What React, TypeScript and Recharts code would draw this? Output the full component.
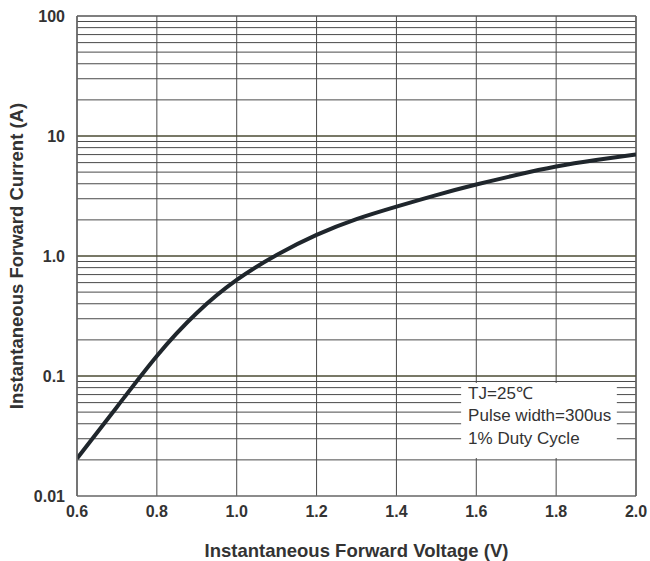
import React from 'react';
import { LineChart, Line, XAxis, YAxis, CartesianGrid, ReferenceLine, ReferenceArea, Label } from 'recharts';

const voltage = [0.6, 0.7, 0.8, 0.9, 1.0, 1.1, 1.2, 1.3, 1.4, 1.5, 1.6, 1.7, 1.8, 1.9, 2.0];
const current = [0.0205, 0.0552, 0.147, 0.335, 0.631, 1.02, 1.5, 2.03, 2.58, 3.22, 3.94, 4.73, 5.57, 6.31, 7.01];

const xTicks = [0.6, 0.8, 1.0, 1.2, 1.4, 1.6, 1.8, 2.0];
const xTickLabels = ['0.6', '0.8', '1.0', '1.2', '1.4', '1.6', '1.8', '2.0'];
const yTicks = [0.01, 0.1, 1, 10, 100];
const yTickLabels = ['0.01', '0.1', '1.0', '10', '100'];
const gridValues = [
  0.02, 0.03, 0.04, 0.05, 0.06, 0.07, 0.08, 0.09, 0.1,
  0.2, 0.3, 0.4, 0.5, 0.6, 0.7, 0.8, 0.9, 1,
  2, 3, 4, 5, 6, 7, 8, 9, 10,
  20, 30, 40, 50, 60, 70, 80, 90,
];
const decadeGrid = [0.1, 1, 10];
const noteLines = ['TJ=25\u2103', 'Pulse width=300us', '1% Duty Cycle'];
const noteBox = { x1: 1.562, x2: 1.952, y1: 0.0207, y2: 0.0875 };

const xTitle = 'Instantaneous Forward Voltage (V)';
const yTitle = 'Instantaneous Forward Current (A)';

const data = voltage.map((v, i) => ({ v, i: current[i] }));

const FONT = '"Liberation Sans", Arial, sans-serif';

const NoteLabel = (props: any) => {
  const vb = props.viewBox || {};
  return (
    <g>
      {noteLines.map((t, k) => (
        <text key={k} x={vb.x + 7} y={vb.y + 10.5 + k * 22.5} dominantBaseline="central"
          fontFamily={FONT} fontSize={17} fill="#333">{t}</text>
      ))}
    </g>
  );
};

const XTitle = (props: any) => {
  const vb = props.viewBox || {};
  return (
    <text x={vb.x + vb.width / 2} y={vb.y + 54} textAnchor="middle" dominantBaseline="central"
      fontFamily={FONT} fontWeight="bold" fontSize={18.5} fill="#333">{xTitle}</text>
  );
};

const YTitle = (props: any) => {
  const vb = props.viewBox || {};
  const cx = vb.x + 16;
  const cy = vb.y + vb.height / 2;
  return (
    <text x={cx} y={cy} textAnchor="middle" dominantBaseline="central" transform={`rotate(-90 ${cx} ${cy})`}
      fontFamily={FONT} fontWeight="bold" fontSize={18.5} fill="#333">{yTitle}</text>
  );
};

export default function App() {
  return (
    <div style={{ position: 'absolute', left: 0, top: 0, width: 650, height: 561, background: '#fff' }}>
      <LineChart width={650} height={561} data={data} margin={{ top: 16, right: 14, bottom: 0, left: 0 }}>
        <CartesianGrid horizontal={true} vertical={true} horizontalValues={gridValues}
          stroke="#4a4a4a" strokeWidth={1} strokeDasharray="" />
        <ReferenceLine y={100} stroke="#555" strokeWidth={1.5} />
        <ReferenceLine x={2.0} stroke="#666" strokeWidth={1.5} />
        <ReferenceArea x1={noteBox.x1} x2={noteBox.x2} y1={noteBox.y1} y2={noteBox.y2}
          fill="#fff" fillOpacity={1} stroke="none" label={<NoteLabel />} />
        {decadeGrid.map((g) => (
          <ReferenceLine key={'d' + g} y={g} stroke="#4d4d28" strokeWidth={1} />
        ))}
        <XAxis dataKey="v" type="number" domain={[0.6, 2.0]} ticks={xTicks} height={65}
          tickFormatter={(v: number) => xTickLabels[xTicks.indexOf(v)] ?? ''}
          tickLine={false} tickSize={0} tickMargin={10} interval={0}
          axisLine={{ stroke: '#666', strokeWidth: 1.5 }}
          tick={{ fontFamily: FONT, fontWeight: 'bold', fontSize: 16, fill: '#333' }}
          allowDataOverflow>
          <Label content={<XTitle />} />
        </XAxis>
        <YAxis type="number" scale="log" domain={[0.01, 100]} ticks={yTicks} width={77}
          tickFormatter={(v: number) => yTickLabels[yTicks.indexOf(v)] ?? ''}
          tickLine={false} tickSize={0} tickMargin={12} interval={0}
          axisLine={{ stroke: '#666', strokeWidth: 1.5 }}
          tick={{ fontFamily: FONT, fontWeight: 'bold', fontSize: 16, fill: '#333' }}
          allowDataOverflow>
          <Label content={<YTitle />} />
        </YAxis>
        <Line dataKey="i" type="natural" stroke="#1f262c" strokeWidth={4} dot={false}
          activeDot={false} isAnimationActive={false} />
      </LineChart>
    </div>
  );
}
